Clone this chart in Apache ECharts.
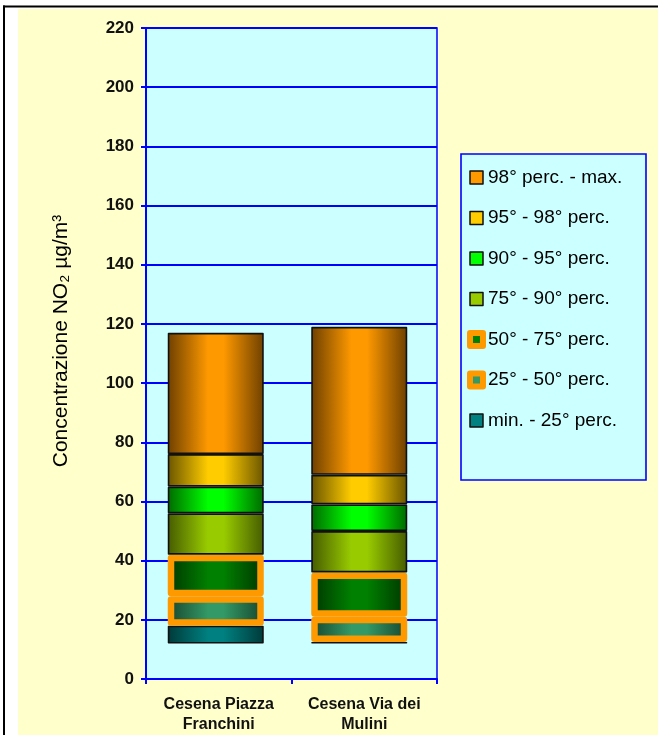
<!DOCTYPE html>
<html>
<head>
<meta charset="utf-8">
<script src="https://cdn.jsdelivr.net/npm/echarts@6/dist/echarts.min.js"></script>
<style>
  html, body { margin: 0; padding: 0; background: #ffffff; }
  #chart { width: 658px; height: 735px; }
</style>
</head>
<body>
<div id="chart"></div>
<script>
// Stations on the x axis
const stations = ['Cesena Piazza\nFranchini', 'Cesena Via dei\nMulini'];

// NO2 concentration percentiles (µg/m³) for each station
const minValues = [12, 12];
const p25Values = [18, 12.5];
const p50Values = [28, 21];
const p75Values = [42, 36];
const p90Values = [56, 50];
const p95Values = [65, 59];
const p98Values = [76, 69];
const maxValues = [117, 119];

// Y axis ticks
const yMin = 0, yMax = 220, yStep = 20;

// Band labels, bottom to top
const bandNames = [
  'min. - 25° perc.',
  '25° - 50° perc.',
  '50° - 75° perc.',
  '75° - 90° perc.',
  '90° - 95° perc.',
  '95° - 98° perc.',
  '98° perc. - max.'
];

// Bright centre / dark edge colours of each band
const bandBright = ['#008080', '#339966', '#008000', '#99CC00', '#00FF00', '#FFCC00', '#FF9900'];
const bandDark   = ['#003a3a', '#17452f', '#003500', '#465c00', '#006a00', '#6a5500', '#6e4000'];
const framedBands = [false, true, true, false, false, false, false];

const lowerBounds = [minValues, p25Values, p50Values, p75Values, p90Values, p95Values, p98Values];
const upperBounds = [p25Values, p50Values, p75Values, p90Values, p95Values, p98Values, maxValues];

const FONT = '"Liberation Sans", Arial, sans-serif';

function shade(dark, bright) {
  return new echarts.graphic.LinearGradient(0, 0, 1, 0, [
    { offset: 0, color: dark },
    { offset: 0.42, color: bright },
    { offset: 0.58, color: bright },
    { offset: 1, color: dark }
  ]);
}

// Bars live on a second, hidden coordinate system sharing the same vertical scale
const series = [{
  name: 'base',
  type: 'bar',
  stack: 'p',
  xAxisIndex: 1,
  yAxisIndex: 1,
  barWidth: 96,
  silent: true,
  itemStyle: { color: 'transparent' },
  data: minValues.slice()
}];

bandNames.forEach((name, i) => {
  series.push({
    name: name,
    type: 'bar',
    stack: 'p',
    xAxisIndex: 1,
    yAxisIndex: 1,
    barWidth: 96,
    itemStyle: {
      color: shade(bandDark[i], bandBright[i]),
      borderColor: framedBands[i] ? '#FF9900' : '#111111',
      borderWidth: framedBands[i] ? 6.5 : 1.6,
      borderJoin: 'round'
    },
    data: upperBounds[i].map((v, k) => +(v - lowerBounds[i][k]).toFixed(2))
  });
});

const legendData = bandNames.slice().reverse().map(name => {
  const i = bandNames.indexOf(name);
  return {
    name: name,
    itemStyle: framedBands[i]
      ? { color: bandBright[i], borderColor: '#FF9900', borderWidth: 6 }
      : { color: bandBright[i], borderColor: '#111111', borderWidth: 1.5 }
  };
});

const chart = echarts.init(document.getElementById('chart'), null, { renderer: 'canvas' });

chart.setOption({
  backgroundColor: '#ffffff',
  animation: false,
  textStyle: { fontFamily: FONT },
  graphic: [
    // pale yellow panel and dark frame lines
    { type: 'rect', z: -10, silent: true,
      shape: { x: 18, y: 9, width: 640, height: 726 },
      style: { fill: '#FFFFCC' } },
    { type: 'rect', z: -10, silent: true,
      shape: { x: 3, y: 5.5, width: 655, height: 2 },
      style: { fill: '#000000' } },
    { type: 'rect', z: -10, silent: true,
      shape: { x: 3, y: 5.5, width: 2, height: 730 },
      style: { fill: '#000000' } },
    // legend box
    { type: 'rect', z: 0, silent: true,
      shape: { x: 461, y: 154, width: 185, height: 326 },
      style: { fill: '#CCFFFF', stroke: '#0000FF', lineWidth: 1.6 } },
    // y axis title
    { type: 'text', z: 5, silent: true,
      x: 61, y: 341, rotation: Math.PI / 2,
      style: {
        text: 'Concentrazione NO₂ µg/m³',
        fontFamily: FONT,
        fontSize: 21,
        fill: '#000000',
        align: 'center',
        verticalAlign: 'middle'
      } }
  ],
  grid: [
    {
      left: 146, right: 221, top: 28, bottom: 56,
      show: true,
      backgroundColor: '#CCFFFF',
      borderColor: '#0000FF',
      borderWidth: 1.5
    },
    { left: 144, right: 227, top: 28, bottom: 56 }
  ],
  legend: {
    orient: 'vertical',
    left: 467,
    top: 168,
    padding: 0,
    itemWidth: 13,
    itemHeight: 13,
    itemGap: 21.5,
    icon: 'rect',
    selectedMode: false,
    textStyle: {
      fontSize: 19,
      color: '#000000',
      fontFamily: FONT
    },
    data: legendData
  },
  xAxis: [
    {
      type: 'category',
      gridIndex: 0,
      data: stations,
      axisLine: { lineStyle: { color: '#0000FF', width: 2 } },
      axisTick: { show: true, length: 5, lineStyle: { color: '#0000FF', width: 2 } },
      axisLabel: {
        interval: 0,
        color: '#111111',
        fontWeight: 'bold',
        fontSize: 16,
        lineHeight: 20,
        margin: 16
      },
      splitLine: { show: false }
    },
    {
      type: 'category',
      gridIndex: 1,
      data: stations,
      show: false
    }
  ],
  yAxis: [
    {
      type: 'value',
      gridIndex: 0,
      min: yMin,
      max: yMax,
      interval: yStep,
      axisLine: { show: true, lineStyle: { color: '#0000FF', width: 2 } },
      axisTick: { show: true, length: 5, lineStyle: { color: '#0000FF', width: 2 } },
      axisLabel: {
        color: '#111111',
        fontWeight: 'bold',
        fontSize: 17,
        margin: 12
      },
      splitLine: { show: true, lineStyle: { color: '#0000FF', width: 2 } }
    },
    {
      type: 'value',
      gridIndex: 1,
      min: yMin,
      max: yMax,
      interval: yStep,
      show: false,
      splitLine: { show: false }
    }
  ],
  series: series
});
</script>
</body>
</html>
